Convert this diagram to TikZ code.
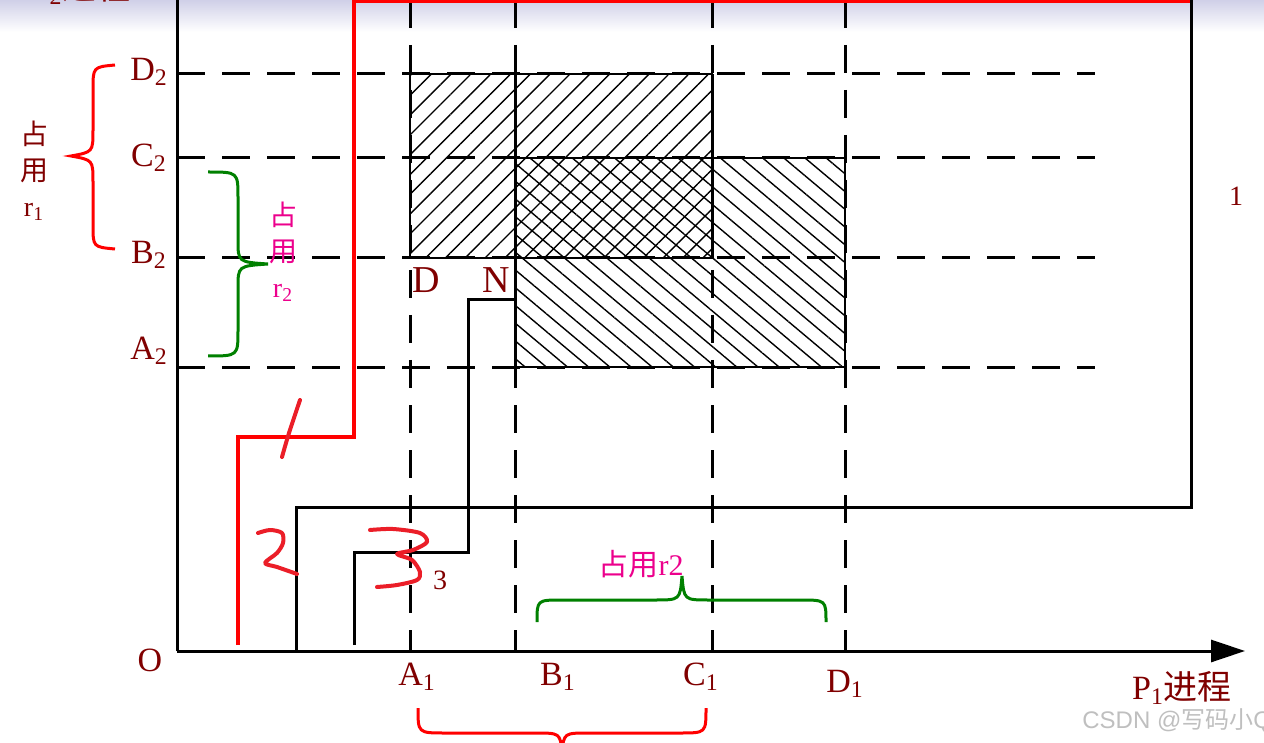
\documentclass[tikz,border=0pt]{standalone}
\usepackage{fontspec}
\setmainfont{Liberation Serif}
\setsansfont{Liberation Sans}
\newfontfamily\cjk{Noto Sans CJK SC}
\usetikzlibrary{arrows.meta,patterns.meta}
\definecolor{darkred}{RGB}{128,0,0}
\definecolor{lav}{RGB}{208,208,232}
\definecolor{hand}{RGB}{235,30,40}
\definecolor{brgreen}{RGB}{0,128,0}
\begin{document}
\begin{tikzpicture}[x=0.5pt, y=-0.5pt, line join=miter,
    axis/.style={line width=1.5pt},
    grid/.style={line width=1.5pt, dash pattern=on 14pt off 8.5pt},
    lab/.style={text=darkred, font=\fontsize{17}{18}\selectfont, inner sep=0pt},
    zh/.style={text=magenta, font=\fontsize{14}{15}\selectfont\cjk, inner sep=0pt},
    handnum/.style={hand, line width=2pt, line cap=round, line join=round}]
    \useasboundingbox (0,0) rectangle (1264,743);
    % 顶部渐变
    \shade[top color=lav, bottom color=white] (0,0) rectangle (1264,32);
    \node[lab, anchor=east] (p2) at (131,-12) {P\textsubscript{2}{\cjk 进程}};

    % 阴影区
    \fill[pattern={Lines[angle=45, distance=7pt, line width=0.7pt]}] (410,74) rectangle (712,258);
    \fill[pattern={Lines[angle=-40, distance=6.8pt, line width=0.7pt]}] (515,158) rectangle (845,367);
    \draw[line width=0.6pt] (410,74) rectangle (712,258);
    \draw[line width=0.6pt] (515,158) rectangle (845,367);
    \draw[axis] (515,74) -- (515,367);
    \draw[axis] (712,74) -- (712,258);

    % 虚线
    \foreach \y in {74,158,258,367} {
        \draw[grid] (177,\y) -- (1095,\y);
    }
    \foreach \x in {410,515,712,845} {
        \draw[grid] (\x,0) -- (\x,651);
    }

    % 坐标轴
    \draw[axis] (177,651) -- (177,-5);
    \draw[axis, -{Triangle[length=17pt, width=11pt]}] (177,651) -- (1245,651);

    % 轨迹
    \draw[red, line width=1.6pt] (238,645) -- (238,437) -- (354,437) -- (354,1.5) -- (1193,1.5);
    \draw[axis] (296,651) -- (296,507) -- (1191,507) -- (1191,0);
    \draw[axis] (354,645) -- (354,552) -- (468,552) -- (468,300) -- (515,300);

    % 手写编号
    \draw[handnum] plot[smooth] coordinates {(282,457) (289,433) (300,400)};
    \draw[handnum] plot[smooth] coordinates {(258,533) (270,530) (282,533) (283,543) (277,553) (265,563) (277,567) (297,574)};
    \draw[handnum] plot[smooth] coordinates {(370,530) (393,529) (420,533) (427,542) (413,550) (397,554) (412,560) (420,572) (417,580) (397,585) (377,587)};

    % 纵轴标注
    \node[lab] (D2) at (149,72) {D\textsubscript{2}};
    \node[lab] (C2) at (149,158) {C\textsubscript{2}};
    \node[lab] (B2) at (149,255) {B\textsubscript{2}};
    \node[lab] (A2) at (149,351) {A\textsubscript{2}};
    \node[lab] (O) at (150,660) {O};

    % 横轴标注
    \node[lab] (A1) at (417,677) {A\textsubscript{1}};
    \node[lab] (B1) at (558,677) {B\textsubscript{1}};
    \node[lab] (C1) at (701,677) {C\textsubscript{1}};
    \node[lab] (D1) at (845,684) {D\textsubscript{1}};
    \node[lab] (p1) at (1182,688) {P\textsubscript{1}{\cjk 进程}};

    % 点与编号
    \node[lab, font=\fontsize{19}{20}\selectfont] (ptD) at (426,280) {D};
    \node[lab, font=\fontsize{19}{20}\selectfont] (ptN) at (496,280) {N};
    \node[lab, font=\fontsize{14}{15}\selectfont] (n3) at (440,580) {3};
    \node[lab, font=\fontsize{14}{15}\selectfont] (n1) at (1236,196) {1};

    % 花括号
    \draw[red, line width=1.5pt] (115,65) .. controls (93,67) .. (93,90) -- (93,130)
        .. controls (93,152) .. (71,156) .. controls (93,160) .. (93,182) -- (93,225)
        .. controls (93,247) .. (115,249);
    \draw[brgreen, line width=1.5pt] (208,172) .. controls (238,172) .. (238,198) -- (238,240)
        .. controls (238,262) .. (268,264) .. controls (238,266) .. (238,288) -- (238,330)
        .. controls (238,356) .. (208,356);
    \draw[brgreen, line width=1.5pt] (537,622) .. controls (537,600) .. (562,600) -- (655,600)
        .. controls (680,600) .. (682,576) .. controls (684,600) .. (709,600) -- (800,600)
        .. controls (826,600) .. (826,622);
    \draw[red, line width=1.5pt] (418,708) .. controls (418,733) .. (445,733) -- (535,733)
        .. controls (560,733) .. (562,752) .. controls (564,733) .. (589,733) -- (680,733)
        .. controls (706,733) .. (706,708);

    % 文字
    \node[text=darkred, font=\fontsize{14}{15}\selectfont, align=center, inner sep=0pt] (r1) at (34,171)
        {{\cjk 占}\\[3pt]{\cjk 用}\\[3pt]r\textsubscript{1}};
    \node[zh, align=center] (r2) at (283,252)
        {占\\[3pt]用\\[3pt]\rmfamily r\textsubscript{2}};
    \node[zh, font=\fontsize{15}{16}\selectfont\cjk] (r2b) at (641,564) {占用\rmfamily r2};

    % 水印
    \node[anchor=west, text=black!25, font=\fontsize{12}{13}\selectfont\sffamily, inner sep=0pt] (mark) at (1082,721)
        {CSDN @{\cjk 写码小}Q};
\end{tikzpicture}
\end{document}
